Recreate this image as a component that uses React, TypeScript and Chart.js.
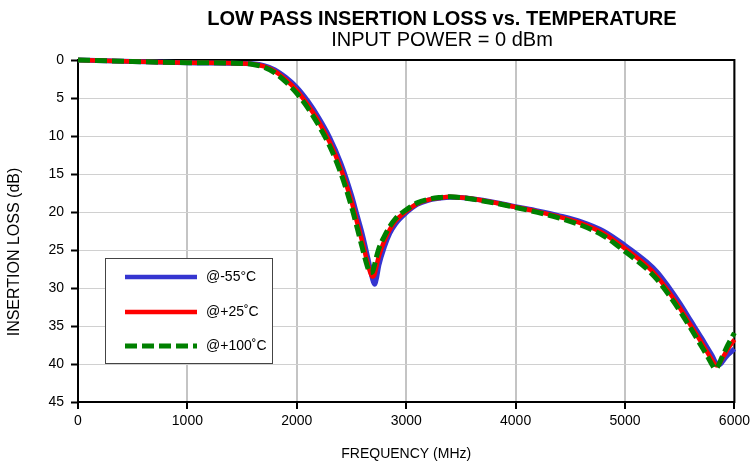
import React, { useEffect, useRef } from "react";
import { Chart, registerables } from "chart.js";

Chart.register(...registerables);

const freqMHz = [0, 500, 1000, 1500, 1600, 1700, 1800, 1900, 2000, 2100, 2200, 2300, 2400, 2500, 2550, 2600, 2650, 2670, 2690, 2710, 2730, 2750, 2800, 2850, 2900, 3000, 3100, 3200, 3300, 3400, 3500, 3600, 3800, 4000, 4200, 4400, 4600, 4800, 5000, 5200, 5300, 5400, 5500, 5600, 5700, 5750, 5800, 5820, 5840, 5860, 5880, 5900, 5940, 6000];

const lossM55 = [0.0, 0.2, 0.35, 0.45, 0.5, 0.75, 1.3, 2.3, 3.6, 5.4, 7.6, 10.2, 13.5, 17.8, 20.4, 23.0, 26.1, 27.4, 28.7, 29.5, 28.6, 27.0, 24.6, 22.8, 21.6, 20.1, 19.0, 18.45, 18.2, 18.05, 18.1, 18.25, 18.7, 19.3, 19.85, 20.5, 21.3, 22.5, 24.4, 26.6, 28.0, 29.9, 32.0, 34.3, 36.6, 37.8, 39.0, 39.6, 40.0, 40.1, 39.9, 39.5, 38.8, 38.0];

const loss25 = [0.0, 0.2, 0.35, 0.45, 0.55, 0.85, 1.5, 2.6, 4.0, 5.9, 8.1, 10.8, 14.2, 18.6, 21.3, 24.0, 26.9, 27.9, 28.5, 28.2, 27.0, 25.8, 23.8, 22.3, 21.2, 19.9, 18.9, 18.4, 18.15, 18.0, 18.1, 18.25, 18.75, 19.35, 19.95, 20.65, 21.5, 22.8, 24.8, 27.1, 28.6, 30.5, 32.6, 34.9, 37.2, 38.4, 39.6, 40.0, 40.2, 40.0, 39.5, 39.0, 38.0, 36.8];

const loss100 = [0.0, 0.2, 0.35, 0.45, 0.6, 0.95, 1.7, 2.9, 4.4, 6.3, 8.6, 11.3, 14.8, 19.3, 22.0, 24.8, 27.4, 28.0, 27.9, 27.0, 25.8, 24.8, 23.2, 21.9, 20.9, 19.7, 18.8, 18.35, 18.1, 18.0, 18.1, 18.3, 18.8, 19.4, 20.05, 20.8, 21.75, 23.1, 25.2, 27.5, 29.0, 30.9, 33.0, 35.3, 37.7, 38.9, 40.2, 40.6, 40.5, 40.0, 39.3, 38.7, 37.5, 35.9];

const xTickValues = [0, 1000, 2000, 3000, 4000, 5000, 6000];
const yTickValues = [0, 5, 10, 15, 20, 25, 30, 35, 40, 45];

const seriesLabels = ["@-55°C", "@+25˚C", "@+100˚C"];
const seriesColors = ["#3535d0", "#ff0000", "#008000"];

const titleText = "LOW PASS INSERTION LOSS vs. TEMPERATURE";
const subtitleText = "INPUT POWER = 0 dBm";
const xTitle = "FREQUENCY (MHz)";
const yTitle = "INSERTION LOSS (dB)";

const FONT = "'Liberation Sans', Arial, sans-serif";

function toPoints(vals: number[]) {
  return freqMHz.map((f, i) => ({ x: f, y: vals[i] }));
}

const decorPlugin = {
  id: "decor",
  beforeDatasetsDraw(chart: any) {
    const { ctx, chartArea } = chart;
    const { left, top, right, bottom } = chartArea;
    ctx.save();
    ctx.strokeStyle = "#000";
    ctx.lineWidth = 2;
    ctx.beginPath();
    ctx.moveTo(left - 1, top);
    ctx.lineTo(right, top);
    ctx.lineTo(right, bottom + 1);
    ctx.stroke();
    ctx.restore();
  },
  afterDraw(chart: any) {
    const { ctx, chartArea } = chart;
    const { left, right } = chartArea;
    ctx.save();
    ctx.fillStyle = "#000";
    ctx.textAlign = "center";
    ctx.textBaseline = "middle";
    ctx.font = `bold 20px ${FONT}`;
    ctx.fillText(titleText, 442, 19);
    ctx.font = `20px ${FONT}`;
    ctx.fillText(subtitleText, 442, 40);
    ctx.font = `14px ${FONT}`;
    ctx.fillText(xTitle, (left + right) / 2, 454);
    ctx.save();
    ctx.translate(15, 252);
    ctx.rotate(-Math.PI / 2);
    ctx.font = `16px ${FONT}`;
    ctx.fillText(yTitle, 0, 0);
    ctx.restore();

    const lx = 105, ly = 258, lw = 167, lh = 105;
    ctx.fillStyle = "#fff";
    ctx.fillRect(lx, ly, lw, lh);
    ctx.strokeStyle = "#444";
    ctx.lineWidth = 1;
    ctx.strokeRect(lx + 0.5, ly + 0.5, lw, lh);
    const rows = [277, 312, 346];
    seriesLabels.forEach((lab, i) => {
      ctx.save();
      ctx.strokeStyle = seriesColors[i];
      ctx.lineWidth = i === 2 ? 5 : 4.5;
      if (i === 2) ctx.setLineDash([12, 5]);
      ctx.beginPath();
      ctx.moveTo(125, rows[i]);
      ctx.lineTo(197, rows[i]);
      ctx.stroke();
      ctx.restore();
      ctx.fillStyle = "#000";
      ctx.textAlign = "left";
      ctx.font = `14px ${FONT}`;
      ctx.fillText(lab, 206, rows[i]);
    });
    ctx.restore();
  },
};

export default function App() {
  const ref = useRef<HTMLCanvasElement | null>(null);
  useEffect(() => {
    if (!ref.current) return;
    const chart = new Chart(ref.current, {
      type: "line",
      data: {
        datasets: [
          {
            label: seriesLabels[0],
            data: toPoints(lossM55),
            borderColor: seriesColors[0],
            borderWidth: 5,
            pointRadius: 0,
            cubicInterpolationMode: "monotone",
            clip: false,
            order: 3,
          },
          {
            label: seriesLabels[1],
            data: toPoints(loss25),
            borderColor: seriesColors[1],
            borderWidth: 4.5,
            pointRadius: 0,
            cubicInterpolationMode: "monotone",
            clip: false,
            order: 2,
          },
          {
            label: seriesLabels[2],
            data: toPoints(loss100),
            borderColor: seriesColors[2],
            borderWidth: 5,
            borderDash: [12, 5],
            pointRadius: 0,
            cubicInterpolationMode: "monotone",
            clip: false,
            order: 1,
          },
        ],
      } as any,
      options: {
        responsive: false,
        animation: false,
        devicePixelRatio: 1,
        events: [],
        layout: { padding: { top: 60, right: 17, left: 0, bottom: 0 } },
        plugins: {
          legend: { display: false },
          title: { display: false },
          tooltip: { enabled: false },
        },
        scales: {
          x: {
            type: "linear",
            min: 0,
            max: 6000,
            afterBuildTicks: (s: any) => {
              s.ticks = xTickValues.map((v) => ({ value: v }));
            },
            afterFit: (s: any) => {
              s.height = 66;
            },
            ticks: {
              color: "#000",
              font: { family: FONT, size: 14 },
              padding: 4,
              maxRotation: 0,
              callback: (v: any) => String(v),
            },
            grid: {
              color: "#c4c4c4",
              lineWidth: 2,
              tickColor: "#000",
              tickLength: 7,
              tickWidth: 2,
            },
            border: { color: "#000", width: 2 },
          },
          y: {
            type: "linear",
            reverse: true,
            min: 0,
            max: 45,
            afterBuildTicks: (s: any) => {
              s.ticks = yTickValues.map((v) => ({ value: v }));
            },
            afterFit: (s: any) => {
              s.width = 78;
            },
            ticks: {
              color: "#000",
              font: { family: FONT, size: 14 },
              padding: 7,
              callback: (v: any) => String(v),
            },
            grid: {
              color: "#d0d0d0",
              lineWidth: 1,
              tickColor: "#000",
              tickLength: 7,
              tickWidth: 2,
            },
            border: { color: "#000", width: 2 },
          },
        },
      } as any,
      plugins: [decorPlugin],
    });
    return () => chart.destroy();
  }, []);
  return (
    <div style={{ position: "fixed", left: 0, top: 0, width: 754, height: 468, background: "#fff" }}>
      <canvas ref={ref} width={754} height={468} style={{ width: 754, height: 468 }} />
    </div>
  );
}
